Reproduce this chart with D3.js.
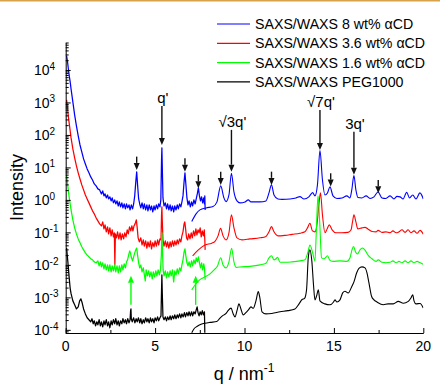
<!DOCTYPE html>
<html>
<head>
<meta charset="utf-8">
<script src="https://cdn.jsdelivr.net/npm/d3@7"></script>
<style>
  body { margin: 0; background: #fff; }
  svg { display: block; font-family: "Liberation Sans", Arial, sans-serif; }
</style>
</head>
<body>
<svg id="chart" width="440" height="385"></svg>
<script>
// legend entries and line colours
const seriesNames = ['SAXS/WAXS 8 wt% \u03B1CD', 'SAXS/WAXS 3.6 wt% \u03B1CD', 'SAXS/WAXS 1.6 wt% \u03B1CD', 'SAXS/WAXS PEG1000'];
const seriesColors = ['#0000ff', '#ff0000', '#00ff00', '#000000'];

// [q (nm^-1), intensity]
const blueSaxs = [[0.05,2.7e4],[0.1,1.8e4],[0.15,1.07e4],[0.2,6.5e3],[0.25,4.3e3],[0.3,2.6e3],[0.4,1.04e3],[0.5,412],[0.6,189],[0.7,93],[0.8,49],[0.9,30],[1.0,18.3],[1.1,12.8],[1.2,9.0],[1.3,6.8],[1.4,5.1],[1.5,4.1],[1.6,3.1],[1.7,2.7],[1.8,2.18],[1.9,2.03],[2.0,1.53],[2.07,1.89],[2.14,1.33],[2.2,1.53],[2.27,1.15],[2.34,1.42],[2.4,1.07],[2.47,1.24],[2.54,0.93],[2.6,1.15],[2.67,0.81],[2.74,1.0],[2.8,0.75],[2.87,0.93],[2.94,0.65],[3.0,0.87],[3.07,0.61],[3.14,0.81],[3.2,0.57],[3.27,0.75],[3.34,0.53],[3.4,0.75],[3.47,0.57],[3.54,0.7],[3.6,0.49],[3.67,0.7],[3.74,0.53],[3.8,0.75],[3.86,1.33],[3.92,3.6],[3.97,7.3],[4.02,2.9],[4.08,1.07],[4.14,0.75],[4.2,0.57],[4.27,0.81],[4.34,0.53],[4.4,0.75],[4.47,0.49],[4.54,0.7],[4.6,0.46],[4.67,0.7],[4.74,0.49],[4.8,0.65],[4.87,0.43],[4.94,0.65],[5.0,0.49],[5.07,0.7],[5.14,0.53],[5.2,0.75],[5.27,0.61],[5.32,1.0],[5.36,17],[5.38,40],[5.4,11.9],[5.44,1.15],[5.5,0.65],[5.57,0.81],[5.64,0.53],[5.7,0.75],[5.77,0.49],[5.84,0.7],[5.9,0.46],[5.97,0.65],[6.04,0.43],[6.1,0.65],[6.17,0.49],[6.24,0.7],[6.3,0.53],[6.37,0.75],[6.44,0.61],[6.5,0.87],[6.56,1.33],[6.62,3.6],[6.67,6.8],[6.72,3.1],[6.78,1.15],[6.84,0.7],[6.9,0.93],[6.97,0.61],[7.04,0.87],[7.1,0.65],[7.17,1.0],[7.24,0.75],[7.3,1.07],[7.36,1.53],[7.42,2.34],[7.48,1.33],[7.54,0.93],[7.6,1.24],[7.66,0.81],[7.72,1.15],[7.76,0.75],[7.78,1.33],[7.8,0.49]];
const blueWaxs = [[7.05,0.215],[7.29,0.371],[7.51,0.492],[7.85,0.567],[8.24,0.622],[8.46,0.868],[8.67,2.7],[8.85,1.15],[8.97,0.886],[9.13,1.42],[9.27,6.6],[9.41,1.76],[9.58,0.93],[9.75,0.808],[10.03,0.868],[10.21,1.0],[10.36,0.868],[10.87,0.868],[11.2,0.93],[11.37,1.64],[11.51,2.9],[11.65,1.42],[11.87,1.07],[12.1,1.04],[12.55,1.07],[12.88,1.15],[13.1,1.26],[13.33,1.07],[13.6,1.24],[13.81,1.68],[13.94,1.33],[14.08,2.9],[14.22,32.9],[14.36,4.1],[14.5,1.42],[14.64,1.64],[14.78,2.51],[14.95,1.33],[15.17,1.11],[15.45,1.15],[15.72,1.33],[15.9,1.15],[16.0,2.03],[16.12,5.6],[16.23,2.03],[16.34,1.19],[16.57,1.15],[16.8,1.33],[17.02,1.11],[17.24,1.24],[17.47,1.76],[17.69,1.15],[17.91,1.11],[18.14,1.33],[18.36,1.07],[18.53,1.28],[18.7,1.24],[18.87,1.07],[19.07,1.7],[19.23,1.15],[19.41,1.42],[19.59,1.07],[19.81,1.64],[20.0,1.07]];

const redSaxs = [[0.05,1.2e3],[0.1,676],[0.15,358],[0.2,218],[0.3,81],[0.4,37],[0.5,19.6],[0.6,11.1],[0.7,6.8],[0.8,4.4],[0.9,2.9],[1.0,2.03],[1.1,1.42],[1.2,1.07],[1.3,0.81],[1.4,0.61],[1.5,0.46],[1.6,0.37],[1.7,0.28],[1.8,0.226],[1.9,0.183],[2.0,0.158],[2.07,0.21],[2.14,0.128],[2.2,0.17],[2.27,0.104],[2.34,0.148],[2.4,0.09],[2.47,0.138],[2.54,0.078],[2.6,0.12],[2.67,0.073],[2.72,0.097],[2.75,0.01],[2.78,0.09],[2.84,0.068],[2.9,0.104],[2.97,0.063],[3.04,0.097],[3.1,0.059],[3.17,0.09],[3.24,0.063],[3.3,0.097],[3.37,0.073],[3.44,0.12],[3.5,0.09],[3.57,0.148],[3.64,0.111],[3.7,0.158],[3.76,0.111],[3.82,0.158],[3.88,0.183],[3.95,0.242],[4.0,0.138],[4.05,0.068],[4.12,0.051],[4.2,0.068],[4.27,0.041],[4.34,0.059],[4.4,0.038],[4.47,0.055],[4.54,0.033],[4.6,0.051],[4.67,0.036],[4.74,0.055],[4.8,0.031],[4.87,0.048],[4.94,0.036],[5.0,0.055],[5.07,0.038],[5.14,0.059],[5.2,0.041],[5.27,0.063],[5.33,0.059],[5.36,0.345],[5.38,0.61],[5.4,0.242],[5.44,0.059],[5.5,0.038],[5.57,0.055],[5.64,0.036],[5.7,0.051],[5.77,0.033],[5.84,0.051],[5.9,0.036],[5.97,0.055],[6.04,0.038],[6.1,0.055],[6.17,0.041],[6.24,0.059],[6.3,0.044],[6.37,0.063],[6.44,0.051],[6.5,0.078],[6.56,0.104],[6.62,0.183],[6.66,0.21],[6.7,0.138],[6.76,0.068],[6.82,0.059],[6.88,0.09],[6.95,0.063],[7.02,0.097],[7.08,0.068],[7.15,0.111],[7.22,0.078],[7.28,0.128],[7.34,0.084],[7.4,0.12],[7.46,0.097],[7.52,0.138],[7.58,0.073],[7.64,0.111],[7.7,0.078],[7.75,0.12],[7.78,0.059],[7.8,0.029]];
const redWaxs = [[7.1,0.019],[7.42,0.029],[7.79,0.041],[8.17,0.0465],[8.35,0.0528],[8.52,0.078],[8.66,0.133],[8.8,0.078],[8.97,0.059],[9.13,0.097],[9.27,0.345],[9.41,0.138],[9.58,0.068],[9.86,0.059],[10.3,0.063],[10.87,0.068],[11.2,0.0753],[11.37,0.104],[11.51,0.151],[11.65,0.104],[11.87,0.078],[12.27,0.081],[12.66,0.087],[13.1,0.094],[13.38,0.104],[13.55,0.148],[13.66,0.192],[13.8,0.111],[13.94,0.104],[14.05,0.17],[14.16,0.701],[14.25,1.64],[14.36,0.345],[14.5,0.097],[14.62,0.128],[14.74,0.17],[14.9,0.12],[15.12,0.097],[15.45,0.097],[15.79,0.1],[15.96,0.12],[16.04,0.21],[16.12,0.345],[16.23,0.21],[16.34,0.128],[16.57,0.138],[16.74,0.143],[16.9,0.128],[17.13,0.107],[17.36,0.104],[17.47,0.115],[17.69,0.1],[17.91,0.104],[18.14,0.097],[18.3,0.111],[18.48,0.097],[18.64,0.104],[18.81,0.12],[18.98,0.1],[19.15,0.12],[19.31,0.097],[19.48,0.111],[19.65,0.094],[19.82,0.115],[20.0,0.087]];

const greenSaxs = [[0.05,5.9],[0.1,3.3],[0.15,1.89],[0.2,1.15],[0.3,0.49],[0.4,0.242],[0.5,0.138],[0.6,0.09],[0.7,0.063],[0.8,0.048],[0.9,0.036],[1.0,0.029],[1.1,0.0234],[1.2,0.02],[1.3,0.0177],[1.4,0.0154],[1.5,0.0143],[1.6,0.0124],[1.7,0.0116],[1.8,0.0133],[1.87,0.0093],[1.94,0.0124],[2.0,0.0087],[2.07,0.0116],[2.14,0.0075],[2.2,0.0108],[2.27,0.007],[2.34,0.01],[2.4,0.0065],[2.47,0.01],[2.54,0.0061],[2.6,0.0093],[2.67,0.0065],[2.74,0.01],[2.8,0.0061],[2.87,0.0093],[2.94,0.0057],[3.0,0.0093],[3.07,0.0061],[3.14,0.01],[3.2,0.007],[3.27,0.0108],[3.34,0.0081],[3.4,0.0124],[3.46,0.0143],[3.52,0.02],[3.58,0.027],[3.62,0.0234],[3.68,0.0165],[3.74,0.0133],[3.8,0.0177],[3.86,0.0234],[3.92,0.029],[3.97,0.033],[4.02,0.02],[4.08,0.0116],[4.14,0.0081],[4.2,0.01],[4.27,0.0061],[4.34,0.0081],[4.4,0.0049],[4.45,0.0032],[4.5,0.007],[4.57,0.0046],[4.64,0.0065],[4.7,0.0043],[4.77,0.0061],[4.84,0.0037],[4.9,0.0061],[4.97,0.0043],[5.04,0.0065],[5.1,0.0046],[5.17,0.007],[5.24,0.0049],[5.3,0.007],[5.35,0.02],[5.38,0.097],[5.41,0.029],[5.45,0.007],[5.5,0.0046],[5.57,0.0065],[5.64,0.004],[5.7,0.0061],[5.77,0.0043],[5.84,0.0065],[5.9,0.0046],[5.97,0.007],[6.04,0.003],[6.1,0.0065],[6.17,0.0049],[6.24,0.0075],[6.3,0.0053],[6.37,0.0081],[6.44,0.0065],[6.5,0.01],[6.56,0.0143],[6.62,0.025],[6.67,0.031],[6.72,0.019],[6.78,0.0116],[6.84,0.0093],[6.9,0.0124],[6.97,0.0087],[7.04,0.0133],[7.1,0.0093],[7.17,0.0143],[7.24,0.0108],[7.3,0.0165],[7.36,0.0124],[7.42,0.0177],[7.48,0.0116],[7.54,0.0081],[7.6,0.0116],[7.66,0.007],[7.72,0.0108],[7.76,0.0081],[7.8,0.0035]];
const greenWaxs = [[7.05,0.0017],[7.23,0.0024],[7.51,0.0035],[7.79,0.0043],[8.07,0.0053],[8.3,0.007],[8.49,0.0093],[8.67,0.0165],[8.8,0.01],[8.97,0.0081],[9.13,0.0124],[9.28,0.0325],[9.41,0.0124],[9.53,0.0084],[9.86,0.0087],[10.3,0.009],[10.87,0.01],[11.2,0.0112],[11.37,0.0165],[11.51,0.019],[11.65,0.0143],[11.76,0.0154],[11.85,0.0171],[11.99,0.012],[12.32,0.012],[12.66,0.0124],[13.1,0.0133],[13.38,0.0143],[13.55,0.025],[13.66,0.041],[13.8,0.025],[13.94,0.0133],[14.02,0.12],[14.11,1.33],[14.2,0.242],[14.31,0.0165],[14.45,0.0154],[14.64,0.019],[14.78,0.0138],[14.95,0.0128],[15.34,0.0133],[15.72,0.0128],[15.9,0.0165],[16.01,0.029],[16.1,0.0366],[16.21,0.025],[16.32,0.0217],[16.46,0.029],[16.6,0.033],[16.74,0.0285],[16.91,0.02],[17.13,0.0154],[17.36,0.0128],[17.48,0.0143],[17.69,0.012],[17.91,0.0116],[18.14,0.012],[18.3,0.0133],[18.48,0.0116],[18.64,0.0128],[18.81,0.0116],[18.98,0.0133],[19.15,0.0116],[19.31,0.0133],[19.48,0.0116],[19.65,0.0128],[19.82,0.0116],[20.0,0.0104]];

const blackSaxs = [[0.05,0.033],[0.1,0.0165],[0.15,0.0081],[0.2,0.0037],[0.25,0.0019],[0.3,0.0013],[0.4,7.8e-4],[0.5,5.9e-4],[0.6,4.4e-4],[0.7,5.1e-4],[0.78,7.8e-4],[0.85,9e-4],[0.92,6.8e-4],[1.0,4.4e-4],[1.1,3.1e-4],[1.2,2.35e-4],[1.3,2.05e-4],[1.4,1.77e-4],[1.47,2.2e-4],[1.54,1.54e-4],[1.6,1.9e-4],[1.67,1.33e-4],[1.74,1.77e-4],[1.8,1.43e-4],[1.87,2.05e-4],[1.94,1.33e-4],[2.0,1.77e-4],[2.07,1.24e-4],[2.14,1.9e-4],[2.2,1.43e-4],[2.27,2.05e-4],[2.34,1.33e-4],[2.4,1.77e-4],[2.47,1.16e-4],[2.54,1.9e-4],[2.6,1.43e-4],[2.67,2.05e-4],[2.74,1.54e-4],[2.8,2.2e-4],[2.87,1.43e-4],[2.94,1.9e-4],[3.0,1.33e-4],[3.07,1.9e-4],[3.14,1.54e-4],[3.2,2.2e-4],[3.27,1.65e-4],[3.34,2.05e-4],[3.4,1.54e-4],[3.47,2.2e-4],[3.54,1.65e-4],[3.6,2.05e-4],[3.63,3.9e-4],[3.65,4.4e-4],[3.67,2.2e-4],[3.72,1.77e-4],[3.8,2.35e-4],[3.87,1.65e-4],[3.94,2.2e-4],[4.0,1.77e-4],[4.07,2.35e-4],[4.14,1.65e-4],[4.2,2.2e-4],[4.27,1.54e-4],[4.34,2.05e-4],[4.4,1.65e-4],[4.47,2.35e-4],[4.54,1.77e-4],[4.6,2.2e-4],[4.67,1.65e-4],[4.74,2.35e-4],[4.8,1.77e-4],[4.87,2.2e-4],[4.94,1.65e-4],[5.0,2.35e-4],[5.07,1.9e-4],[5.14,2.5e-4],[5.2,1.9e-4],[5.27,2.35e-4],[5.33,2.7e-4],[5.36,0.0017],[5.38,0.0049],[5.4,0.0015],[5.44,2.5e-4],[5.5,2.05e-4],[5.57,2.5e-4],[5.64,1.9e-4],[5.7,2.5e-4],[5.77,2.05e-4],[5.84,2.7e-4],[5.9,2.05e-4],[5.97,2.7e-4],[6.04,2.2e-4],[6.1,2.9e-4],[6.17,2.2e-4],[6.24,2.9e-4],[6.3,2.35e-4],[6.37,3.1e-4],[6.44,2.35e-4],[6.5,3.1e-4],[6.57,2.5e-4],[6.64,3.4e-4],[6.7,2.5e-4],[6.77,3.4e-4],[6.84,2.7e-4],[6.9,3.6e-4],[6.97,2.7e-4],[7.04,3.6e-4],[7.1,2.7e-4],[7.17,3.6e-4],[7.24,3.1e-4],[7.3,4.1e-4],[7.35,5.1e-4],[7.4,3.4e-4],[7.46,2.7e-4],[7.52,3.6e-4],[7.58,2.9e-4],[7.64,3.9e-4],[7.7,2.9e-4],[7.76,3.6e-4],[7.78,8.2e-5]];
const blackWaxs = [[7.05,8.2e-5],[7.18,1.08e-4],[7.34,1.27e-4],[7.57,1.48e-4],[7.79,1.6e-4],[8.07,1.7e-4],[8.45,1.8e-4],[8.63,2.3e-4],[8.8,2.8e-4],[8.97,3.2e-4],[9.08,3.9e-4],[9.25,4.66e-4],[9.36,3.2e-4],[9.47,2.5e-4],[9.58,3.9e-4],[9.69,6.3e-4],[9.8,4.4e-4],[9.93,2.9e-4],[10.08,3.4e-4],[10.22,4.1e-4],[10.36,5.1e-4],[10.49,4.6e-4],[10.64,7.8e-4],[10.77,1.5e-3],[10.86,9.6e-4],[10.98,3.6e-4],[11.2,3.1e-4],[11.53,3.2e-4],[11.99,3.6e-4],[12.43,3.9e-4],[12.82,4.4e-4],[13.05,6.3e-4],[13.22,8.6e-4],[13.36,9.3e-4],[13.47,1.7e-3],[13.57,0.0177],[13.66,0.029],[13.77,0.0124],[13.86,0.0024],[13.94,8.4e-4],[14.03,1.1e-3],[14.13,1.7e-3],[14.22,7.8e-4],[14.5,6.3e-4],[14.78,5.9e-4],[14.98,7.2e-4],[15.06,8.4e-4],[15.17,7.2e-4],[15.34,8.4e-4],[15.5,1.4e-3],[15.62,1.54e-3],[15.8,1.36e-3],[15.99,2.1e-3],[16.12,3.0e-3],[16.27,5.6e-3],[16.4,7.8e-3],[16.57,8.7e-3],[16.74,8.1e-3],[16.85,5.7e-3],[16.96,2.8e-3],[17.11,1.06e-3],[17.24,8.4e-4],[17.41,7.2e-4],[17.76,5.9e-4],[18.03,6.3e-4],[18.32,6.3e-4],[18.6,7.5e-4],[18.88,6.6e-4],[19.16,7.5e-4],[19.31,9.6e-4],[19.41,1.2e-3],[19.48,7.8e-4],[19.59,6.3e-4],[19.82,6.5e-4],[20.0,4.7e-4]];

// peak markers: q position, arrow tail and tip intensities
const downArrowQ = [3.97, 5.38, 6.67, 7.42, 8.67, 9.27, 11.51, 14.22, 14.82, 16.12, 17.48];
const downArrowTail = [21.5, 780, 19.2, 5.9, 7.4, 143, 7.4, 588, 6.6, 126, 4.1];
const downArrowTip = [8.4, 49, 7.4, 2.29, 2.9, 7.4, 2.9, 34.5, 2.57, 5.9, 1.61];
const upArrowQ = [3.65, 7.27];
const upArrowTail = [5.9e-4, 5.9e-4];
const upArrowTip = [4.6e-3, 4.6e-3];
const peakLabels = ["q'", "\u221A3q'", "\u221A7q'", "3q'"];
const peakLabelQ = [5.38, 9.27, 14.22, 16.12];
const peakLabelI = [780, 143, 588, 126];

// axis ticks
const xMajor = [0, 5, 10, 15, 20];
const xMinor = [2.5, 7.5, 12.5, 17.5];
const yExponents = [-4, -3, -2, -1, 0, 1, 2, 3, 4];

const svg = d3.select('#chart');
const x = d3.scaleLinear().domain([0, 20]).range([65.7, 423.3]);
const y = d3.scaleLog().domain([8e-5, 7e4]).range([333, 42.5]);

// orange strip at the very top of the picture
svg.append('rect').attr('x', 0).attr('y', 0).attr('width', 440).attr('height', 1.5).attr('fill', '#d6a24a');

svg.append('clipPath').attr('id', 'plot-clip')
  .append('rect').attr('x', 65.7).attr('y', 42.5).attr('width', 357.6).attr('height', 290.5);

const plot = svg.append('g').attr('clip-path', 'url(#plot-clip)');

const saxsLine = d3.line().x(d => x(d[0])).y(d => y(d[1]));
const waxsLine = d3.line().x(d => x(d[0])).y(d => y(d[1])).curve(d3.curveMonotoneX);

const curves = [
  [blueSaxs, blueWaxs],
  [redSaxs, redWaxs],
  [greenSaxs, greenWaxs],
  [blackSaxs, blackWaxs],
];

curves.forEach((pair, i) => {
  plot.append('path').datum(pair[0])
    .attr('d', saxsLine)
    .attr('fill', 'none').attr('stroke', seriesColors[i]).attr('stroke-width', 1.25)
    .attr('stroke-linejoin', 'round');
  plot.append('path').datum(pair[1])
    .attr('d', waxsLine)
    .attr('fill', 'none').attr('stroke', seriesColors[i]).attr('stroke-width', 1.1);
});

// axes, ticks pointing inward
const xAxis = svg.append('g').attr('transform', 'translate(0,333)');
xAxis.call(d3.axisBottom(x).tickValues(xMajor).tickSize(-5).tickSizeOuter(0).tickFormat(''));
xAxis.append('g').call(d3.axisBottom(x).tickValues(xMinor).tickSize(-3).tickSizeOuter(0).tickFormat(''))
  .select('.domain').remove();

const yMinor = [];
for (let e = -5; e <= 4; e++) {
  for (let m = 2; m <= 9; m++) {
    const v = m * Math.pow(10, e);
    if (v >= 8e-5 && v <= 7e4) yMinor.push(v);
  }
}
const yAxis = svg.append('g').attr('transform', 'translate(65.7,0)');
yAxis.call(d3.axisLeft(y).tickValues(yExponents.map(e => Math.pow(10, e))).tickSize(-5).tickSizeOuter(0).tickFormat(''));
yAxis.append('g').call(d3.axisLeft(y).tickValues(yMinor).tickSize(-3).tickSizeOuter(0).tickFormat(''))
  .select('.domain').remove();
svg.selectAll('.tick line, .domain').attr('stroke', '#000').attr('stroke-width', 1);

// tick labels
svg.append('g').selectAll('text').data(xMajor).enter().append('text')
  .attr('x', d => x(d)).attr('y', 351)
  .attr('text-anchor', 'middle').attr('font-size', 14).attr('fill', '#000')
  .text(d => d);

const yLabels = svg.append('g').selectAll('text').data(yExponents).enter().append('text')
  .attr('x', 34).attr('y', d => y(Math.pow(10, d)) + 5.5)
  .attr('font-size', 14).attr('fill', '#000');
yLabels.append('tspan').text('10');
yLabels.append('tspan').attr('dy', -5.5).attr('font-size', 10).text(d => d);

// axis titles
const xTitle = svg.append('text').attr('x', 244).attr('y', 380)
  .attr('text-anchor', 'middle').attr('font-size', 18).attr('fill', '#000');
xTitle.append('tspan').text('q / nm');
xTitle.append('tspan').attr('dy', -8).attr('font-size', 12).text('-1');

svg.append('text')
  .attr('transform', 'translate(23,187.5) rotate(-90)')
  .attr('text-anchor', 'middle').attr('font-size', 18).attr('fill', '#000')
  .text('Intensity');

// peak arrows
function arrow(q, tail, tip, color, dir) {
  const ax = x(q), y0 = y(tail), y1 = y(tip);
  const head = 7 * dir;
  svg.append('line')
    .attr('x1', ax).attr('x2', ax).attr('y1', y0).attr('y2', y1 - head)
    .attr('stroke', color).attr('stroke-width', 1.4);
  svg.append('path')
    .attr('d', 'M' + (ax - 3) + ',' + (y1 - head) + 'L' + (ax + 3) + ',' + (y1 - head) + 'L' + ax + ',' + y1 + 'Z')
    .attr('fill', color);
}
downArrowQ.forEach((q, i) => arrow(q, downArrowTail[i], downArrowTip[i], '#111', 1));
upArrowQ.forEach((q, i) => arrow(q, upArrowTail[i], upArrowTip[i], '#00ff00', -1));

svg.append('g').selectAll('text').data(peakLabels).enter().append('text')
  .attr('x', (d, i) => x(peakLabelQ[i]) + 1)
  .attr('y', (d, i) => y(peakLabelI[i]) - 3)
  .attr('text-anchor', 'middle').attr('font-size', 15).attr('fill', '#000')
  .text(d => d);

// legend
const legend = svg.append('g').selectAll('g').data(seriesNames).enter().append('g')
  .attr('transform', (d, i) => 'translate(0,' + (24 + i * 19.3) + ')');
legend.append('line')
  .attr('x1', 217).attr('x2', 250).attr('y1', 0).attr('y2', 0)
  .attr('stroke', (d, i) => seriesColors[i]).attr('stroke-width', 1.2);
legend.append('text')
  .attr('x', 255).attr('y', 5)
  .attr('font-size', 14.2).attr('fill', '#000')
  .text(d => d);
</script>
</body>
</html>
